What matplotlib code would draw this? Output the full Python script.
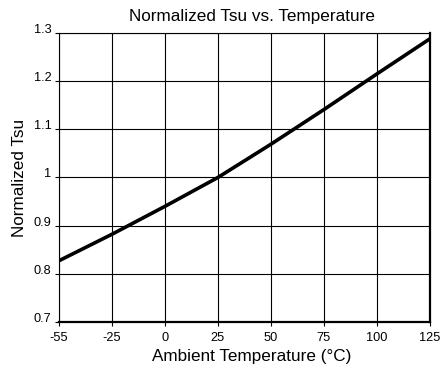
import matplotlib
matplotlib.use("Agg")
import matplotlib.pyplot as plt

plt.rcParams['font.family'] = ['Liberation Sans', 'DejaVu Sans']

temp_labels = ["-55", "-25", "0", "25", "50", "75", "100", "125"]
tsu_values = [0.827, 0.882, 0.940, 1.000, 1.069, 1.141, 1.215, 1.288]
y_ticks = [0.7, 0.8, 0.9, 1.0, 1.1, 1.2, 1.3]
y_tick_labels = ["0.7", "0.8", "0.9", "1", "1.1", "1.2", "1.3"]

fig = plt.figure(figsize=(4.4, 3.73), dpi=100)
ax = fig.add_axes([0.134, 0.137, 0.843, 0.7745])

pos = list(range(len(temp_labels)))
ax.plot(pos, tsu_values, color='black', linewidth=2.6, solid_capstyle='butt', zorder=3)

ax.set_xlim(0, len(temp_labels) - 1)
ax.set_ylim(0.7, 1.3)
ax.set_xticks(pos)
ax.set_xticklabels(temp_labels, fontsize=9.2)
ax.set_yticks(y_ticks)
ax.set_yticklabels(y_tick_labels, fontsize=9.2, va='baseline')
ax.tick_params(axis='both', direction='out', length=3, width=0.8, color='black')
ax.tick_params(axis='y', pad=2.5)
ax.tick_params(axis='x', pad=4)
ax.grid(True, color='black', linewidth=0.8)
ax.set_axisbelow(True)
for side in ['top', 'left']:
    ax.spines[side].set_linewidth(0.8)
for side in ['bottom', 'right']:
    ax.spines[side].set_linewidth(1.6)

ax.set_title("Normalized Tsu vs. Temperature", fontsize=12.3, pad=9, x=0.52)
ax.set_xlabel("Ambient Temperature (°C)", fontsize=12.3, labelpad=4, x=0.52)
ax.set_ylabel("Normalized Tsu", fontsize=12.3, labelpad=5)

fig.savefig("out.png", dpi=100)
